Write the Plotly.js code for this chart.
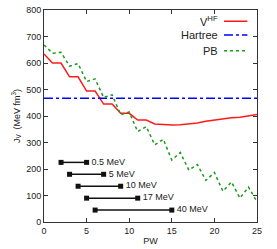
<!DOCTYPE html>
<html>
<head>
<meta charset="utf-8">
<script src="https://cdn.plot.ly/plotly-3.0.1.min.js"></script>
<style>html,body{margin:0;padding:0;background:#fff;}#chart{width:277px;height:249px;}</style>
</head>
<body>
<div id="chart"></div>
<script>
// PW values
const pw = [0,1,2,3,4,5,6,7,8,9,10,11,12,13,14,15,16,17,18,19,20,21,22,23,24,25];
// V^HF series
const vhf = [634,600,600,548,548,494,494,445,445,410,410,385,385,370,368,366,367,370,374,380,385,388,393,395,400,406];
// Hartree constant
const hartree = 467;
// PB series
const pb = [668,637,640,588,598,530,540,470,480,405,415,341,360,291,312,234,262,196,217,157,187,116,151,90,132,76];

// Energy range bars
const barLabels = ["0.5 MeV","5 MeV","10 MeV","17 MeV","40 MeV"];
const barStart = [2,3,4,5,6];
const barEnd = [5,7,9,11,15];
const barY = [225,180,135,90,45];

const ff = "Liberation Sans, Arial, sans-serif";
const font = {family:ff, size:9, color:"#222"};
const legFont = {family:ff, size:11, color:"#222"};

const traces = [
  {x:pw, y:vhf, mode:"lines", line:{color:"#ff1a1a", width:1.5}, name:"V<sup>HF</sup>"},
  {x:[pw[0], pw[pw.length-1]], y:[hartree, hartree], mode:"lines", line:{color:"#0000ff", width:1.5, dash:"dashdot"}, name:"Hartree"},
  {x:pw, y:pb, mode:"lines", line:{color:"#1a9a1a", width:1.5, dash:"dot"}, name:"PB"}
];
for (let i=0;i<barLabels.length;i++){
  traces.push({
    x:[barStart[i], barEnd[i]], y:[barY[i], barY[i]],
    mode:"lines+markers",
    line:{color:"#111", width:1.5},
    marker:{color:"#111", symbol:"square", size:5},
    showlegend:false
  });
  traces.push({
    x:[barEnd[i]], y:[barY[i]],
    mode:"text",
    text:["\u00a0\u00a0" + barLabels[i]], textposition:"middle right",
    textfont:font,
    showlegend:false
  });
}

// custom legend (text left of sample)
const legNames = ["V<sup>HF</sup>","Hartree","PB"];
const legColors = ["#ff1a1a","#0000ff","#1a9a1a"];
const legDash = ["solid","dashdot","dot"];
const legY = [0.947,0.882,0.808];
const annotations = [];
const shapes = [];
for (let i=0;i<3;i++){
  annotations.push({xref:"paper", yref:"paper", x:0.825, y:legY[i], text:legNames[i], showarrow:false, xanchor:"right", yanchor:"middle", font:legFont});
  shapes.push({type:"line", xref:"paper", yref:"paper", x0:0.845, x1:0.955, y0:legY[i], y1:legY[i], line:{color:legColors[i], width:1.5, dash:legDash[i]}});
}

const axisCommon = {showline:true, mirror:"ticks", linecolor:"#333", linewidth:1, ticks:"inside", ticklen:4, tickcolor:"#333", zeroline:false, showgrid:false, tickfont:font};

const layout = {
  width:277, height:249,
  margin:{l:44, r:20, t:10, b:27},
  paper_bgcolor:"#fff", plot_bgcolor:"#fff",
  showlegend:false,
  font:font,
  xaxis:Object.assign({}, axisCommon, {range:[0,25], dtick:5, title:{text:"PW", font:font, standoff:2}}),
  yaxis:Object.assign({}, axisCommon, {range:[0,800], dtick:100, title:{text:"J<sub>V</sub>  (MeV fm<sup>3</sup>)", font:font, standoff:4}}),
  annotations:annotations,
  shapes:shapes
};

Plotly.newPlot("chart", traces, layout, {staticPlot:true, displayModeBar:false});
</script>
</body>
</html>
